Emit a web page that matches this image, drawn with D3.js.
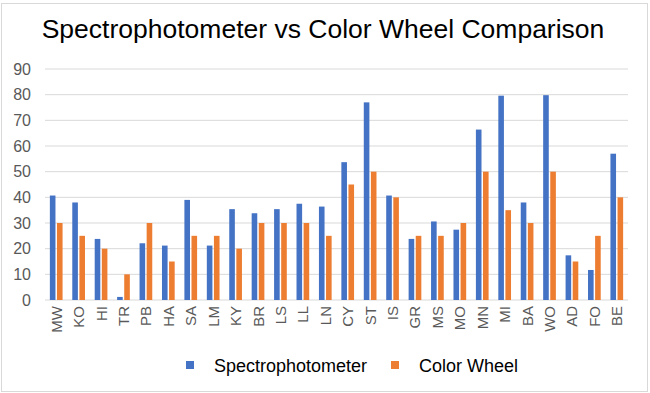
<!DOCTYPE html>
<html>
<head>
<meta charset="utf-8">
<script src="https://cdn.jsdelivr.net/npm/d3@7"></script>
<style>
  html, body { margin: 0; padding: 0; background: #fff; }
  svg { display: block; font-family: Arial, "Liberation Sans", sans-serif; }
</style>
</head>
<body>
<div id="chart"></div>
<script>
// === DATA ===
const categories = ["MW", "KO", "HI", "TR", "PB", "HA", "SA", "LM", "KY", "BR", "LS", "LL", "LN",
  "CY", "ST", "IS", "GR", "MS", "MO", "MN", "MI", "BA", "WO", "AD", "FO", "BE"];
const spectro = [40.7, 38, 23.8, 1.2, 22.1, 21.2, 39, 21.2, 35.4, 33.8, 35.4, 37.5, 36.4,
  53.7, 77, 40.7, 23.8, 30.6, 27.4, 66.4, 79.6, 38, 79.8, 17.4, 11.7, 57];
const colorWheel = [30, 25, 20, 10, 30, 15, 25, 25, 20, 30, 30, 30, 25,
  45, 50, 40, 25, 25, 30, 50, 35, 30, 50, 15, 25, 40];
const yTicks = [0, 10, 20, 30, 40, 50, 60, 70, 80, 90];
const seriesNames = ["Spectrophotometer", "Color Wheel"];
const seriesColors = ["#4472c4", "#ed7d31"];

// === LAYOUT ===
const W = 650, H = 393;
const plot = { left: 45, right: 628, top: 69, bottom: 300 };

const svg = d3.select("#chart").append("svg")
  .attr("width", W)
  .attr("height", H);

// outer frame
svg.append("rect")
  .attr("x", 1.5).attr("y", 3.5)
  .attr("width", W - 4).attr("height", H - 5)
  .attr("fill", "#fff")
  .attr("stroke", "#d9d9d9");

const x = d3.scaleBand().domain(categories).range([plot.left, plot.right]);
const y = d3.scaleLinear().domain([0, 90]).range([plot.bottom, plot.top]);

const barW = 5.6, barGap = 1.5;
const groupOffset = (x.bandwidth() - (2 * barW + barGap)) / 2;

// gridlines
svg.append("g")
  .selectAll("line")
  .data(yTicks)
  .join("line")
  .attr("x1", plot.left).attr("x2", plot.right)
  .attr("y1", d => y(d)).attr("y2", d => y(d))
  .attr("stroke", "#d9d9d9")
  .attr("stroke-width", 1);

// y axis labels
const yAxis = d3.axisLeft(y).tickValues(yTicks).tickSize(0).tickPadding(0);
svg.append("g")
  .attr("transform", `translate(${plot.left - 14},0)`)
  .call(yAxis)
  .call(g => g.select(".domain").remove())
  .call(g => g.selectAll("text")
    .attr("fill", "#595959")
    .style("font-size", "16px")
    .attr("font-family", "Arial, 'Liberation Sans', sans-serif"));

// bars
const rows = categories.map((c, i) => ({ c, vals: [spectro[i], colorWheel[i]] }));
const groups = svg.append("g")
  .selectAll("g")
  .data(rows)
  .join("g")
  .attr("transform", d => `translate(${x(d.c) + groupOffset},0)`);

groups.selectAll("rect")
  .data(d => d.vals)
  .join("rect")
  .attr("x", (d, i) => i * (barW + barGap))
  .attr("width", barW)
  .attr("y", d => y(d))
  .attr("height", d => y(0) - y(d))
  .attr("fill", (d, i) => seriesColors[i]);

// x axis labels (rotated)
const xAxis = d3.axisBottom(x).tickSize(0).tickPadding(0);
svg.append("g")
  .attr("transform", `translate(0,${plot.bottom})`)
  .call(xAxis)
  .call(g => g.select(".domain").remove())
  .call(g => g.selectAll("text")
    .attr("fill", "#595959")
    .style("font-size", "15px")
    .attr("font-family", "Arial, 'Liberation Sans', sans-serif")
    .attr("text-anchor", "end")
    .attr("dy", null)
    .attr("y", 0)
    .attr("transform", "translate(5.5,6) rotate(-90)"));

// title
svg.append("text")
  .attr("x", 323).attr("y", 38)
  .attr("text-anchor", "middle")
  .attr("fill", "#000")
  .style("font-size", "26.5px")
  .text("Spectrophotometer vs Color Wheel Comparison");

// legend
const legendX = [186, 391];
const legend = svg.append("g")
  .selectAll("g")
  .data(seriesNames)
  .join("g")
  .attr("transform", (d, i) => `translate(${legendX[i]},361)`);
legend.append("rect")
  .attr("width", 8).attr("height", 8)
  .attr("fill", (d, i) => seriesColors[i]);
legend.append("text")
  .attr("x", 28).attr("y", 11)
  .attr("fill", "#000")
  .style("font-size", "18px")
  .text(d => d);
</script>
</body>
</html>
